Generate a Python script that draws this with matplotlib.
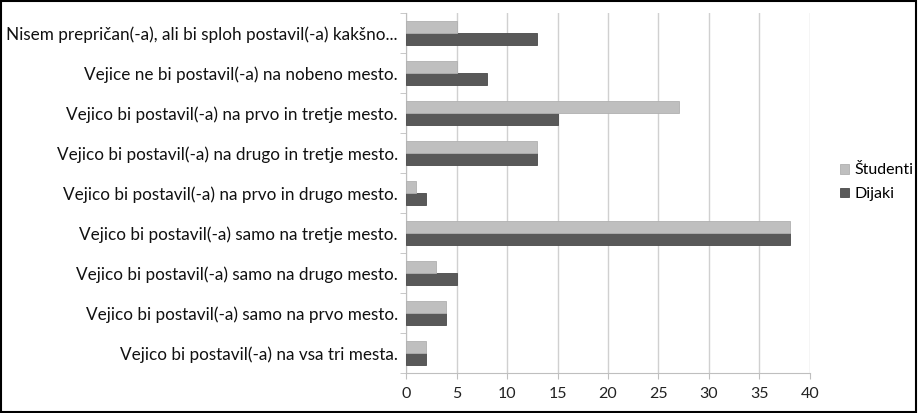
import matplotlib.pyplot as plt
import numpy as np

categories = [
    'Vejico bi postavil(-a) na vsa tri mesta.',
    'Vejico bi postavil(-a) samo na prvo mesto.',
    'Vejico bi postavil(-a) samo na drugo mesto.',
    'Vejico bi postavil(-a) samo na tretje mesto.',
    'Vejico bi postavil(-a) na prvo in drugo mesto.',
    'Vejico bi postavil(-a) na drugo in tretje mesto.',
    'Vejico bi postavil(-a) na prvo in tretje mesto.',
    'Vejice ne bi postavil(-a) na nobeno mesto.',
    'Nisem prepričan(-a), ali bi sploh postavil(-a) kakšno...',
]
studenti = [2, 4, 3, 38, 1, 13, 27, 5, 5]
dijaki = [2, 4, 5, 38, 2, 13, 15, 8, 13]
xticks = [0, 5, 10, 15, 20, 25, 30, 35, 40]

plt.rcParams['font.family'] = ['Lato', 'DejaVu Sans']

fig = plt.figure(figsize=(9.18, 4.13), dpi=100)
ax = fig.add_axes([0.4423, 0.0969, 0.44, 0.8716])

y = np.arange(len(categories))
h = 0.29
ax.barh(y - h / 2, dijaki, height=h, color='#595959', edgecolor='#4a4a4a', linewidth=0.6, label='Dijaki', zorder=3)
ax.barh(y + h / 2, studenti, height=h, color='#bfbfbf', edgecolor='#b0b0b0', linewidth=0.6, label='Študenti', zorder=3)

ax.set_xlim(0, 40)
ax.set_ylim(-0.5, len(categories) - 0.5)
ax.set_xticks(xticks)
ax.set_xticklabels([str(v) for v in xticks], fontsize=11.5, color='#222222')
ax.set_yticks(np.arange(len(categories) + 1) - 0.5, minor=True)
ax.set_yticks(y)
ax.set_yticklabels(categories, fontsize=12.3, color='#111111')
ax.tick_params(axis='y', which='major', length=0, pad=6)
ax.tick_params(axis='y', which='minor', length=4, color='#bfbfbf', direction='out')
ax.tick_params(axis='x', length=4, color='#bfbfbf', direction='out', pad=6)

ax.grid(axis='x', color='#d0d0d0', linewidth=1, zorder=0)
for s in ['top', 'right']:
    ax.spines[s].set_visible(False)
ax.spines['left'].set_color('#bfbfbf')
ax.spines['bottom'].set_color('#bfbfbf')

handles, labels = ax.get_legend_handles_labels()
ax.legend(handles[::-1], labels[::-1], loc='center left', bbox_to_anchor=(1.04, 0.53),
          frameon=False, fontsize=11.5, handlelength=0.55, handleheight=0.55,
          handletextpad=0.3, labelspacing=0.6)

fig.patches.append(plt.Rectangle((0.001, 0.002), 0.997, 0.995, transform=fig.transFigure,
                                 fill=False, edgecolor='black', linewidth=1.5))

fig.savefig('out.png', dpi=100)
